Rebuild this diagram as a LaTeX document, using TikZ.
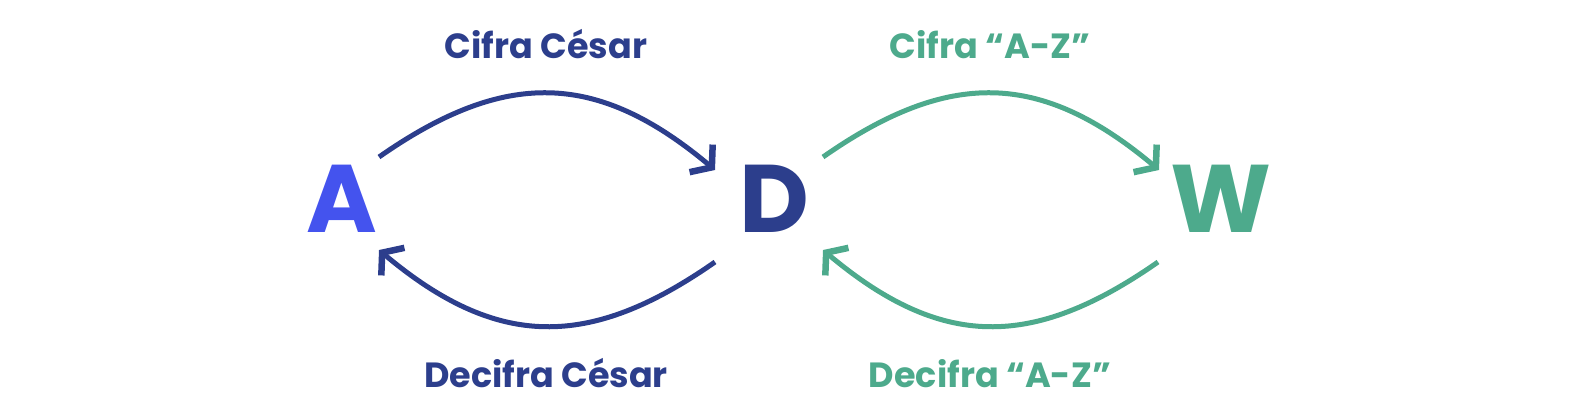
\documentclass[tikz,border=0pt]{standalone}
\usepackage{fontspec}
\setmainfont{Poppins}[BoldFont={Poppins Bold}]
\usetikzlibrary{arrows.meta}
\definecolor{letterA}{RGB}{68,83,238}
\definecolor{navy}{RGB}{44,62,140}
\definecolor{teal}{RGB}{77,170,140}
\tikzstyle{letter} = [inner sep=0pt, font=\fontsize{96}{96}\selectfont\bfseries]
\tikzstyle{caption} = [anchor=base, inner sep=0pt, font=\fontsize{35}{35}\selectfont\bfseries]
\tikzstyle{cipher} = [line width=5pt, -{Straight Barb[length=14pt, width=36pt, line width=1.5pt 1]}]

\begin{document}
\begin{tikzpicture}[x=1pt, y=-1pt]
  \useasboundingbox (0,0) rectangle (1570,418);

  \node[letter, letterA] (A) at (342,199) {A};
  \node[letter, navy] (D) at (774,199) {D};
  \node[letter, teal] (W) at (1221,199) {W};

  \node[caption, navy] (cesarA) at (546,58) {Cifra César};
  \node[caption, navy] (cesarB) at (546,387) {Decifra César};
  \node[caption, teal] (azA) at (990,58) {Cifra “A-Z”};
  \node[caption, teal] (azB) at (990,387) {Decifra “A-Z”};

  % Cesar
  \draw[cipher, navy] ([shift={(37,-42)}]A.center) .. controls +(126,-88) and +(-118,-99) .. ([shift={(-59,-29)}]D.center);
  \draw[cipher, navy] ([shift={(-59,63)}]D.center) .. controls +(-126,88) and +(118,99) .. ([shift={(37,51)}]A.center);
  % A-Z
  \draw[cipher, teal] ([shift={(49,-42)}]D.center) .. controls +(126,-88) and +(-118,-99) .. ([shift={(-62,-29)}]W.center);
  \draw[cipher, teal] ([shift={(-63,63)}]W.center) .. controls +(-126,88) and +(118,99) .. ([shift={(49,51)}]D.center);
\end{tikzpicture}
\end{document}
